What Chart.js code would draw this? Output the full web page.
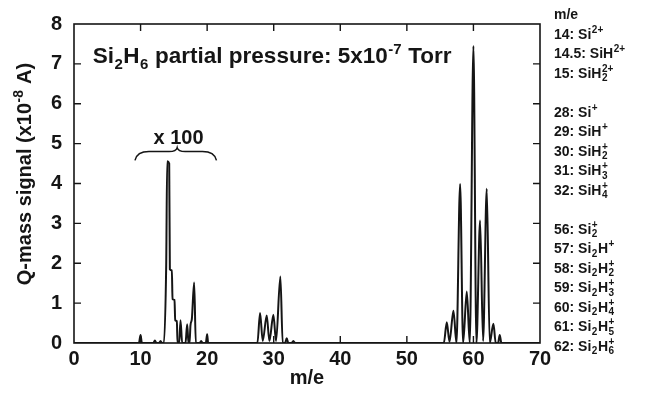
<!DOCTYPE html>
<html>
<head>
<meta charset="utf-8">
<script src="https://cdn.jsdelivr.net/npm/chart.js@4.4.1/dist/chart.umd.min.js"></script>
<style>
  html, body { margin: 0; padding: 0; background: #fff; }
  #wrap { width: 654px; height: 396px; }
</style>
</head>
<body>
<div id="wrap"><canvas id="qmsChart" width="654" height="396"></canvas></div>
<script>
// m/e positions along the traced spectrum
const massAxis = [
  0, 9.75, 10.0, 10.2, 11.9, 12.15, 12.4, 12.8, 13.0, 13.2,
  13.5, 13.85, 14.0, 14.3, 14.4, 14.7, 14.8, 15.1, 15.2, 15.45,
  15.55, 15.8, 16.0, 16.25, 16.75, 17.0, 17.2, 17.35, 17.5, 17.7,
  18.05, 18.3, 18.9, 19.1, 19.3, 19.8, 20.0, 20.15,
  27.55, 27.95, 28.35, 28.95, 29.35, 29.95, 30.35, 31.0, 31.35, 31.7,
  31.95, 32.2, 32.7, 32.95, 33.2,
  55.55, 56.0, 56.4, 57.0, 57.45, 58.0, 58.45, 59.0, 59.45, 60.0,
  60.45, 61.0, 61.45, 62.0, 62.45, 63.0, 63.35, 63.7, 63.95, 64.2, 70
];
// Q-mass signal (x10^-8 A) read at each position above
const signal = [
  0, 0, 0.2, 0, 0, 0.06, 0, 0, 0.05, 0,
  0, 1.95, 4.56, 4.5, 1.85, 1.82, 1.1, 1.08, 0.57, 0.55,
  0, 0, 0.57, 0, 0, 0.47, 0, 0, 0.45, 0.6,
  1.52, 0, 0, 0.05, 0, 0, 0.22, 0,
  0, 0.75, 0.05, 0.69, 0.05, 0.71, 0.05, 1.67, 0, 0,
  0.12, 0, 0, 0.05, 0,
  0, 0.52, 0.03, 0.81, 0, 3.99, 0, 1.29, 0, 7.45,
  0, 3.07, 0.05, 3.87, 0, 0.48, 0, 0, 0.2, 0, 0
];

const xTicks = [0, 10, 20, 30, 40, 50, 60, 70];
const yTicks = [0, 1, 2, 3, 4, 5, 6, 7, 8];

// ion assignments: each row is a list of [text, subscript, superscript]
const ionRows = [
  [["m/e"]],
  [["14: Si", null, "2+"]],
  [["14.5: SiH", null, "2+"]],
  [["15: SiH", "2", "2+"]],
  null,
  [["28: Si", null, "+"]],
  [["29: SiH", null, "+"]],
  [["30: SiH", "2", "+"]],
  [["31: SiH", "3", "+"]],
  [["32: SiH", "4", "+"]],
  null,
  [["56: Si", "2", "+"]],
  [["57: Si", "2"], ["H", null, "+"]],
  [["58: Si", "2"], ["H", "2", "+"]],
  [["59: Si", "2"], ["H", "3", "+"]],
  [["60: Si", "2"], ["H", "4", "+"]],
  [["61: Si", "2"], ["H", "5", "+"]],
  [["62: Si", "2"], ["H", "6", "+"]]
];

const titleText = [["Si", "2"], ["H", "6"], [" partial pressure: 5x10", null, "-7"], [" Torr"]];
const yTitleText = [["Q-mass signal (x10", null, "-8"], [" A)"]];

const FONT = '"Liberation Sans", Arial, Helvetica, sans-serif';
const INK = "#151515";

// draws text with stacked sub/superscripts; y is the baseline
function richText(ctx, x, y, segs, size, align) {
  const big = `bold ${size}px ${FONT}`;
  const small = `bold ${Math.round(size * 0.68)}px ${FONT}`;
  let total = 0;
  segs.forEach(([t, sub, sup]) => {
    ctx.font = big;
    total += ctx.measureText(t).width;
    ctx.font = small;
    const w = Math.max(sub ? ctx.measureText(sub).width : 0, sup ? ctx.measureText(sup).width : 0);
    total += w ? w + 1 : 0;
  });
  let cx = align === "center" ? x - total / 2 : x;
  ctx.textAlign = "left";
  ctx.textBaseline = "alphabetic";
  segs.forEach(([t, sub, sup]) => {
    ctx.font = big;
    ctx.fillText(t, cx, y);
    cx += ctx.measureText(t).width;
    ctx.font = small;
    let w = 0;
    if (sub) {
      ctx.fillText(sub, cx + 0.5, y + size * 0.25);
      w = Math.max(w, ctx.measureText(sub).width);
    }
    if (sup) {
      ctx.fillText(sup, cx + 0.5, y - size * 0.42);
      w = Math.max(w, ctx.measureText(sup).width);
    }
    cx += w ? w + 1 : 0;
  });
}

const framePlugin = {
  id: "frame",
  afterDatasetsDraw(chart) {
    const ctx = chart.ctx;
    const { left, right, top, bottom } = chart.chartArea;
    const xs = chart.scales.x, ys = chart.scales.y;
    ctx.save();
    ctx.strokeStyle = INK;
    ctx.fillStyle = INK;

    // box
    ctx.lineWidth = 1.6;
    ctx.strokeRect(left, top, right - left, bottom - top);

    // inward ticks on all four sides
    ctx.lineWidth = 1.4;
    ctx.beginPath();
    xTicks.slice(1, -1).forEach(v => {
      const px = xs.getPixelForValue(v);
      ctx.moveTo(px, bottom); ctx.lineTo(px, bottom - 7);
      ctx.moveTo(px, top); ctx.lineTo(px, top + 7);
    });
    yTicks.slice(1, -1).forEach(v => {
      const py = ys.getPixelForValue(v);
      ctx.moveTo(left, py); ctx.lineTo(left + 7, py);
      ctx.moveTo(right, py); ctx.lineTo(right - 7, py);
    });
    ctx.stroke();

    // headline inside the plot
    richText(ctx, xs.getPixelForValue(2.8), ys.getPixelForValue(7.02), titleText, 22.5, "left");

    // x 100 label and brace
    richText(ctx, xs.getPixelForValue(15.7), ys.getPixelForValue(4.99), [["x 100"]], 20, "center");
    const bl = xs.getPixelForValue(9.16), br = xs.getPixelForValue(21.4), bm = xs.getPixelForValue(15.5);
    const yEnd = ys.getPixelForValue(4.58), yMid = ys.getPixelForValue(4.8), yTip = ys.getPixelForValue(4.9);
    ctx.lineWidth = 1.5;
    ctx.beginPath();
    ctx.moveTo(bl, yEnd);
    ctx.quadraticCurveTo(bl + 2, yMid, bl + 14, yMid);
    ctx.lineTo(bm - 8, yMid);
    ctx.quadraticCurveTo(bm - 1, yMid, bm, yTip);
    ctx.quadraticCurveTo(bm + 1, yMid, bm + 8, yMid);
    ctx.lineTo(br - 14, yMid);
    ctx.quadraticCurveTo(br - 2, yMid, br, yEnd);
    ctx.stroke();

    // axis titles
    richText(ctx, (left + right) / 2, 384, [["m/e"]], 20, "center");
    ctx.save();
    ctx.translate(31, 174);
    ctx.rotate(-Math.PI / 2);
    richText(ctx, 0, 0, yTitleText, 20, "center");
    ctx.restore();

    // ion assignment list on the right
    ionRows.forEach((row, i) => {
      if (row) richText(ctx, right + 14, 19 + i * 19.5, row, 14, "left");
    });
    ctx.restore();
  }
};

const tickFont = { family: FONT, size: 20, weight: "bold" };

new Chart(document.getElementById("qmsChart").getContext("2d"), {
  type: "line",
  data: {
    datasets: [{
      data: massAxis.map((m, i) => ({ x: m, y: signal[i] })),
      borderColor: INK,
      borderWidth: 2,
      pointRadius: 0,
      fill: false,
      cubicInterpolationMode: "monotone"
    }]
  },
  options: {
    responsive: false,
    animation: false,
    layout: { padding: { top: 20, right: 114, left: 0, bottom: 0 } },
    plugins: { legend: { display: false }, tooltip: { enabled: false } },
    scales: {
      x: {
        type: "linear",
        min: 0,
        max: 70,
        afterBuildTicks: s => { s.ticks = xTicks.map(v => ({ value: v })); },
        afterFit: s => { s.height = 53; },
        grid: { display: false, drawTicks: false },
        border: { display: false },
        ticks: { font: tickFont, color: INK, padding: 4, maxRotation: 0, autoSkip: false }
      },
      y: {
        type: "linear",
        min: 0,
        max: 8,
        afterBuildTicks: s => { s.ticks = yTicks.map(v => ({ value: v })); },
        afterFit: s => { s.width = 74; },
        grid: { display: false, drawTicks: false },
        border: { display: false },
        ticks: { font: tickFont, color: INK, padding: 12, autoSkip: false }
      }
    }
  },
  plugins: [framePlugin]
});
</script>
</body>
</html>
